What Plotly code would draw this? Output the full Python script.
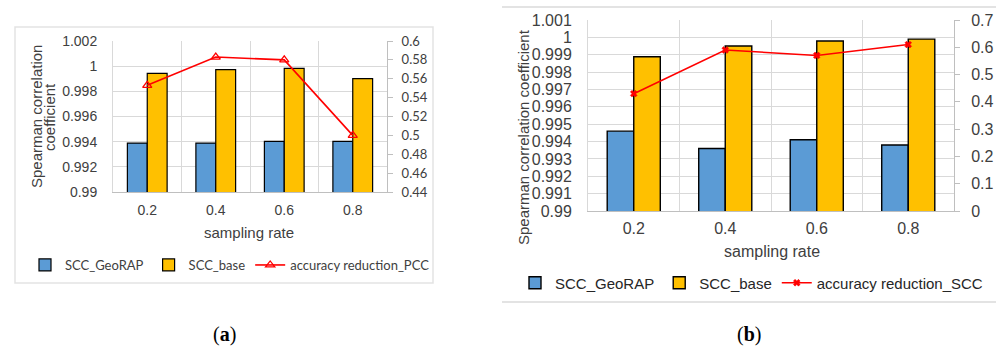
import plotly.graph_objects as go

categories = ["0.2", "0.4", "0.6", "0.8"]

# Panel (a)
a_geo = [0.99389, 0.99389, 0.99403, 0.99403]
a_base = [0.99942, 0.99972, 0.99982, 0.99901]
a_red = [0.553, 0.583, 0.580, 0.500]

# Panel (b)
b_geo = [0.99460, 0.99360, 0.99410, 0.99380]
b_base = [0.99888, 0.99950, 0.99979, 0.99990]
b_red = [0.430, 0.590, 0.570, 0.610]

a_left_ticks = [0.99, 0.992, 0.994, 0.996, 0.998, 1.0, 1.002]
a_left_text = ["0.99", "0.992", "0.994", "0.996", "0.998", "1", "1.002"]
a_right_ticks = [0.44, 0.46, 0.48, 0.5, 0.52, 0.54, 0.56, 0.58, 0.6]
a_right_text = ["0.44", "0.46", "0.48", "0.5", "0.52", "0.54", "0.56", "0.58", "0.6"]
b_left_ticks = [0.99, 0.991, 0.992, 0.993, 0.994, 0.995, 0.996, 0.997, 0.998, 0.999, 1.0, 1.001]
b_left_text = ["0.99", "0.991", "0.992", "0.993", "0.994", "0.995", "0.996", "0.997", "0.998", "0.999", "1", "1.001"]
b_right_ticks = [0, 0.1, 0.2, 0.3, 0.4, 0.5, 0.6, 0.7]
b_right_text = ["0", "0.1", "0.2", "0.3", "0.4", "0.5", "0.6", "0.7"]

W, H = 996, 353
def px(x):
    return x / W
def py(y):
    return 1 - y / H

BLUE = "#5B9BD5"
GOLD = "#FFC000"
RED = "#FF0000"
GRID = "#D9D9D9"
AXL = "#BFBFBF"
ARIAL = "Liberation Sans"
CAL = "Lato"

fig = go.Figure()

# Panel (a)
fig.add_trace(go.Bar(x=categories, y=a_geo, name="SCC_GeoRAP", marker=dict(color=BLUE, line=dict(color="#000", width=1.2)),
                     xaxis="x", yaxis="y", legend="legend"))
fig.add_trace(go.Bar(x=categories, y=a_base, name="SCC_base", marker=dict(color=GOLD, line=dict(color="#000", width=1.2)),
                     xaxis="x", yaxis="y", legend="legend"))
fig.add_trace(go.Scatter(x=categories, y=a_red, name="accuracy reduction_PCC", mode="lines+markers",
                         line=dict(color=RED, width=1.6),
                         marker=dict(symbol="triangle-up-open", size=8, color=RED, line=dict(width=1.3)),
                         xaxis="x", yaxis="y2", legend="legend"))

# Panel (b)
fig.add_trace(go.Bar(x=categories, y=b_geo, name="SCC_GeoRAP", marker=dict(color=BLUE, line=dict(color="#000", width=1.4)),
                     xaxis="x2", yaxis="y3", legend="legend2"))
fig.add_trace(go.Bar(x=categories, y=b_base, name="SCC_base", marker=dict(color=GOLD, line=dict(color="#000", width=1.4)),
                     xaxis="x2", yaxis="y3", legend="legend2"))
fig.add_trace(go.Scatter(x=categories, y=b_red, name="accuracy reduction_SCC", mode="lines+markers",
                         line=dict(color=RED, width=1.6),
                         marker=dict(symbol="x", size=6, color=RED, line=dict(width=0.5, color=RED)),
                         xaxis="x2", yaxis="y4", legend="legend2"))

a_x0, a_x1, a_y0, a_y1 = 113, 387, 41, 192
b_x0, b_x1, b_y0, b_y1 = 588, 954, 20, 211

xcommon = dict(type="category", tickson="boundaries", showgrid=True, gridcolor=GRID, gridwidth=1,
               showline=True, linecolor=AXL, ticks="", ticklen=0, zeroline=False, automargin=False)

fig.update_layout(
    template="none",
    width=W, height=H, margin=dict(l=0, r=0, t=0, b=0, autoexpand=False),
    paper_bgcolor="white", plot_bgcolor="white",
    barmode="group", bargap=0.42, bargroupgap=0,
    showlegend=True,
    xaxis=dict(**xcommon, domain=[px(a_x0), px(a_x1)], anchor="y",
               tickfont=dict(family=ARIAL, size=14, color="#404040"), ticklabelstandoff=5),
    yaxis=dict(domain=[py(a_y1), py(a_y0)], anchor="x", range=[0.99, 1.002], automargin=False,
               tickvals=a_left_ticks, ticktext=a_left_text, showgrid=True, gridcolor=GRID,
               showline=True, linecolor=GRID, zeroline=False, ticks="", ticklen=0,
               tickfont=dict(family=ARIAL, size=14, color="#404040"), ticklabelstandoff=12),
    yaxis2=dict(overlaying="y", side="right", anchor="x", range=[0.44, 0.6], automargin=False,
                tickvals=a_right_ticks, ticktext=a_right_text, showgrid=False, zeroline=False,
                showline=True, linecolor=AXL, ticks="outside", ticklen=5, tickcolor=AXL,
                tickfont=dict(family=CAL, size=13, color="#404040"), ticklabelstandoff=6),
    xaxis2=dict(**xcommon, domain=[px(b_x0), px(b_x1)], anchor="y3",
                tickfont=dict(family=ARIAL, size=16, color="#404040"), ticklabelstandoff=3),
    yaxis3=dict(domain=[py(b_y1), py(b_y0)], anchor="x2", range=[0.99, 1.001], automargin=False,
                tickvals=b_left_ticks, ticktext=b_left_text, showgrid=True, gridcolor=GRID,
                showline=True, linecolor=GRID, zeroline=False, ticks="", ticklen=0,
                tickfont=dict(family=ARIAL, size=16, color="#404040"), ticklabelstandoff=12),
    yaxis4=dict(overlaying="y3", side="right", anchor="x2", range=[0, 0.7], automargin=False,
                tickvals=b_right_ticks, ticktext=b_right_text, showgrid=False, zeroline=False,
                showline=True, linecolor=AXL, ticks="outside", ticklen=5, tickcolor=AXL,
                tickfont=dict(family=ARIAL, size=16, color="#404040"), ticklabelstandoff=8),
    legend=dict(orientation="h", x=px(25), y=py(265), xanchor="left", yanchor="middle",
                font=dict(family=CAL, size=13, color="#404040"), bgcolor="rgba(0,0,0,0)",
                itemwidth=30, tracegroupgap=0),
    legend2=dict(orientation="h", x=px(515), y=py(283), xanchor="left", yanchor="middle",
                 font=dict(family=ARIAL, size=15, color="#262626"), bgcolor="rgba(0,0,0,0)",
                 itemwidth=30, tracegroupgap=0),
    shapes=[
        dict(type="rect", xref="paper", yref="paper", x0=px(15), x1=px(433), y0=py(283), y1=py(27),
             line=dict(color="#E3E3E3", width=1.5), layer="below"),
        dict(type="line", xref="paper", yref="paper", x0=px(502), x1=1.0, y0=py(7), y1=py(7),
             line=dict(color="#E3E3E3", width=2), layer="below"),
        dict(type="line", xref="paper", yref="paper", x0=px(502), x1=1.0, y0=py(302), y1=py(302),
             line=dict(color="#E3E3E3", width=2), layer="below"),
    ],
    annotations=[
        dict(text="Spearman correlation", xref="paper", yref="paper",
             x=px(37), y=py(117), textangle=-90, showarrow=False,
             font=dict(family=ARIAL, size=15, color="#404040"), xanchor="center", yanchor="middle"),
        dict(text="coefficient", xref="paper", yref="paper",
             x=px(50), y=py(117), textangle=-90, showarrow=False,
             font=dict(family=ARIAL, size=15, color="#404040"), xanchor="center", yanchor="middle"),
        dict(text="sampling rate", xref="paper", yref="paper", x=px(249), y=py(232), showarrow=False,
             font=dict(family=ARIAL, size=15, color="#404040"), xanchor="center", yanchor="middle"),
        dict(text="Spearman correlation coefficient", xref="paper", yref="paper",
             x=px(523), y=py(137), textangle=-90, showarrow=False,
             font=dict(family=ARIAL, size=15, color="#404040"), xanchor="center", yanchor="middle"),
        dict(text="sampling rate", xref="paper", yref="paper", x=px(772), y=py(251), showarrow=False,
             font=dict(family=ARIAL, size=16, color="#404040"), xanchor="center", yanchor="middle"),
        dict(text="(<b>a</b>)", xref="paper", yref="paper", x=px(224), y=py(334), showarrow=False,
             font=dict(family="Liberation Serif", size=20, color="#000"), xanchor="center", yanchor="middle"),
        dict(text="(<b>b</b>)", xref="paper", yref="paper", x=px(749), y=py(334), showarrow=False,
             font=dict(family="Liberation Serif", size=20, color="#000"), xanchor="center", yanchor="middle"),
    ],
)

fig.write_html("out.html", config={"displayModeBar": False},
               post_script="document.body.style.margin='0';document.body.style.overflow='hidden';")
